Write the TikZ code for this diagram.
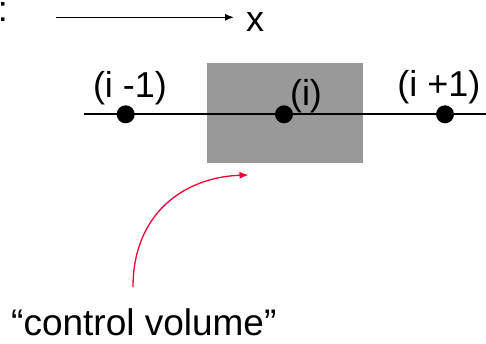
\documentclass[tikz,border=0pt]{standalone}
\usepackage{fontspec}
\setmainfont{Liberation Sans}
\usetikzlibrary{arrows.meta}
\definecolor{cvred}{RGB}{240,0,50}

\begin{document}
\begin{tikzpicture}[x=1pt,y=-1pt,
  lbl/.style={inner sep=0pt,font=\fontsize{36}{40}\selectfont},
  biglbl/.style={inner sep=0pt,font=\fontsize{37}{42}\selectfont},
  pnt/.style={circle,fill=black,inner sep=0pt,minimum size=18pt},
  tip/.style={-{Latex[length=9pt,width=7pt]}}]
\useasboundingbox (0,0) rectangle (486,343);
%\draw[help lines,step=20] (0,0) grid (486,343);

% axis
\node[lbl,anchor=base east] (colon) at (8,21) {:};
\coordinate (xL) at (56,17.3);
\coordinate (xR) at (234,17.3);
\draw[line width=1.3pt,tip] (xL) -- (xR);
\node[lbl,anchor=base west] (xlab) at (246,31) {x};

% control volume and grid line
\node[fill=black!40,inner sep=0pt,minimum width=155.7pt,minimum height=100pt] (cv) at (284.85,112.7) {};
\coordinate (lineL) at (84,114.3);
\coordinate (lineR) at (486,114.3);
\draw[line width=2pt] (lineL) -- (lineR);
\node[pnt] (im) at (125.7,114.3) {};
\node[pnt] (i) at (284,114.3) {};
\node[pnt] (ip) at (445,114.3) {};
\node[lbl,anchor=base] (imlab) at (130,97) {(i -1)};
\node[lbl,anchor=base] (ilab) at (306,105) {(i)};
\node[lbl,anchor=base] (iplab) at (439,96) {(i +1)};

% label
\node[biglbl,anchor=base west] (cvlab) at (11,335.5) {“control volume”};
\coordinate (cvstart) at (133,287);
\coordinate (cvtip) at (248.5,175);
\draw[cvred,line width=1.3pt,tip] (cvstart) .. controls (133,213) and (185,177) .. (cvtip);
\end{tikzpicture}
\end{document}
